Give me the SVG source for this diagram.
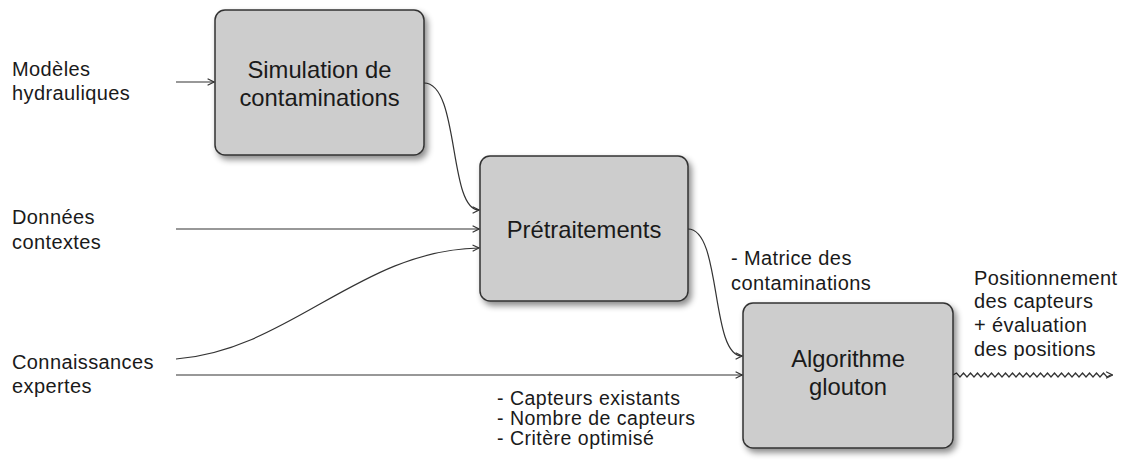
<svg xmlns="http://www.w3.org/2000/svg" width="1125" height="462" viewBox="0 0 1125 462">
<style>
.box{fill:#cdcdcd;stroke:#333;stroke-width:1.5;filter:url(#sh)}
.bt{font-family:"Liberation Sans",Arial,sans-serif;font-size:23.8px;fill:#1a1a1a;text-anchor:middle}
.lb{font-family:"Liberation Sans",Arial,sans-serif;font-size:20px;fill:#1a1a1a;letter-spacing:0.4px}
.sm{font-family:"Liberation Sans",Arial,sans-serif;font-size:19.5px;fill:#1a1a1a;letter-spacing:0.5px}
.c{fill:none;stroke:#333;stroke-width:1.2;marker-end:url(#ah)}
</style>
<defs>
<filter id="sh" x="-20%" y="-20%" width="140%" height="140%">
<feDropShadow dx="3" dy="4" stdDeviation="3" flood-color="#000" flood-opacity="0.45"/>
</filter>
<marker id="ah" viewBox="0 0 10 10" refX="9" refY="5" markerWidth="8" markerHeight="8" markerUnits="userSpaceOnUse" orient="auto">
<path d="M1,1 L9,5 L1,9" fill="none" stroke="#333" stroke-width="1.4"/>
</marker>
</defs>
<rect width="1125" height="462" fill="#fff"/>
<g id="connectors">
<path class="c" d="M176,82 L214,82"/>
<path class="c" d="M424,83 C460,83 448,210 479,210"/>
<path class="c" d="M176,229 L479,229"/>
<path class="c" d="M176,359 C290,350 360,250 479,248"/>
<path class="c" d="M688,229 C722,229 710,356 742,356"/>
<path class="c" d="M176,375 L742,375"/>
<path class="c" d="M953,375 l3.5,-2 l3.5,4 l3.5,-4 l3.5,4 l3.5,-4 l3.5,4 l3.5,-4 l3.5,4 l3.5,-4 l3.5,4 l3.5,-4 l3.5,4 l3.5,-4 l3.5,4 l3.5,-4 l3.5,4 l3.5,-4 l3.5,4 l3.5,-4 l3.5,4 l3.5,-4 l3.5,4 l3.5,-4 l3.5,4 l3.5,-4 l3.5,4 l3.5,-4 l3.5,4 l3.5,-4 l3.5,4 l3.5,-4 l3.5,4 l3.5,-4 l3.5,4 l3.5,-4 l3.5,4 l3.5,-4 l3.5,4 l3.5,-4 l3.5,4 l3.5,-4 l3.5,4 l3.5,-4 l3.5,4 l3.5,-2 l2,0"/>
</g>
<g id="simulation">
<rect class="box" x="215" y="10" width="209" height="145" rx="10"/>
<text class="bt" x="319.5" y="78">Simulation de</text>
<text class="bt" x="319.5" y="106">contaminations</text>
</g>
<g id="pretraitements">
<rect class="box" x="480" y="156" width="208" height="145" rx="10"/>
<text class="bt" x="584" y="238">Prétraitements</text>
</g>
<g id="algorithme">
<rect class="box" x="743" y="303" width="210" height="145" rx="10"/>
<text class="bt" x="848" y="367">Algorithme</text>
<text class="bt" x="848" y="395">glouton</text>
</g>
<g id="modeles">
<text class="lb" x="12" y="76">Modèles</text>
<text class="lb" x="12" y="100">hydrauliques</text>
</g>
<g id="donnees">
<text class="lb" x="12" y="224">Données</text>
<text class="lb" x="12" y="249">contextes</text>
</g>
<g id="connaissances">
<text class="lb" x="12" y="369">Connaissances</text>
<text class="lb" x="12" y="393">expertes</text>
</g>
<g id="matrice">
<text class="lb" x="731" y="265">- Matrice des</text>
<text class="lb" x="731" y="290">contaminations</text>
</g>
<g id="capteurs">
<text class="sm" x="497" y="405">- Capteurs existants</text>
<text class="sm" x="497" y="425">- Nombre de capteurs</text>
<text class="sm" x="497" y="445">- Critère optimisé</text>
</g>
<g id="positionnement">
<text class="lb" x="974" y="285">Positionnement</text>
<text class="lb" x="974" y="308">des capteurs</text>
<text class="lb" x="974" y="332">+ évaluation</text>
<text class="lb" x="974" y="356">des positions</text>
</g>
</svg>
